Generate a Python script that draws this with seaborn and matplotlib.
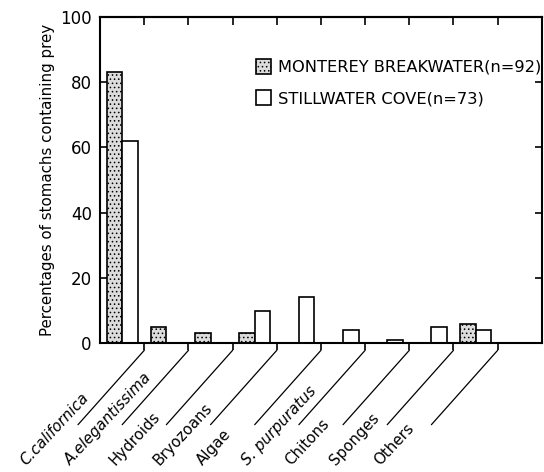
import numpy as np
import pandas as pd
import matplotlib
matplotlib.use("Agg")
import matplotlib.pyplot as plt
from matplotlib.patches import Patch
import seaborn as sns

# prey categories (last slot on the axis is left empty)
categories = ["C.californica", "A.elegantissima", "Hydroids", "Bryozoans",
              "Algae", "S. purpuratus", "Chitons", "Sponges", "Others"]
italic_cats = {"C.californica", "A.elegantissima", "S. purpuratus"}
sites = ["MONTEREY BREAKWATER(n=92)", "STILLWATER COVE(n=73)"]
monterey = [83, 5, 3, 3, 0, 0, 0, 0, 6]
stillwater = [62, 0, 0, 10, 14, 4, 1, 5, 4]
yticks = [0, 20, 40, 60, 80, 100]

df = pd.DataFrame({
    "prey": categories * 2,
    "site": [sites[0]] * len(categories) + [sites[1]] * len(categories),
    "pct": monterey + stillwater,
})

sns.set_style("ticks")
plt.rcParams["font.family"] = ["DejaVu Sans"]
plt.rcParams["hatch.color"] = "#555555"
plt.rcParams["hatch.linewidth"] = 0.6
for k in ["text.color", "axes.labelcolor", "xtick.color", "ytick.color"]:
    plt.rcParams[k] = "black"

fig = plt.figure(figsize=(5.44, 4.72), dpi=100)
ax = fig.add_axes([0.184, 0.273, 0.812, 0.691])

sns.barplot(data=df, x="prey", y="pct", hue="site", order=categories,
            hue_order=sites, width=0.7, ax=ax, legend=False,
            palette=["white", "white"], edgecolor="black", linewidth=1.2)

styles = [dict(fc="#dcdcdc", hatch="...."), dict(fc="white", hatch="")]
for cont, st in zip(ax.containers, styles):
    for bar in cont:
        bar.set_facecolor(st["fc"])
        bar.set_hatch(st["hatch"])
        bar.set_edgecolor("black")

n = len(categories)
ax.set_xlim(-0.5, n + 0.5)
ax.set_ylim(0, 100)
bounds = np.arange(n) + 0.5
ax.set_xticks(bounds)
ax.set_xticklabels([])
ax.tick_params(axis="x", direction="out", length=5, width=1.2)
ax.set_yticks(yticks)
ax.set_yticklabels([str(v) for v in yticks], fontsize=12)
ax.tick_params(axis="y", direction="in", length=5, width=1.2, right=True, pad=6)
secx = ax.secondary_xaxis("top")
secx.set_xticks(bounds)
secx.set_xticklabels([])
secx.tick_params(direction="in", length=6, width=1.2)
secx.spines["top"].set_linewidth(1.5)

for s in ax.spines.values():
    s.set_visible(True)
    s.set_linewidth(1.5)
    s.set_color("black")

ax.set_xlabel("")
ax.set_ylabel("Percentages of stomachs containing prey", fontsize=10.8, labelpad=4)

# slanted separators below the axis
xtr = ax.get_xaxis_transform()
for b in bounds:
    ax.plot([b, b - 1.5], [-0.022, -0.25], transform=xtr, color="black",
            lw=0.9, clip_on=False)

# rotated category labels between the separators
for i, c in enumerate(categories):
    ax.annotate(c, xy=(i, 0), xycoords=("data", "axes fraction"),
                xytext=(-99, -120), textcoords="offset pixels",
                rotation=47, rotation_mode="anchor", ha="left", va="center",
                fontsize=10.8, style="italic" if c in italic_cats else "normal")

handles = [Patch(facecolor="#dcdcdc", hatch="....", edgecolor="black", lw=1.2),
           Patch(facecolor="white", edgecolor="black", lw=1.2)]
ax.legend(handles, sites, loc="upper left", bbox_to_anchor=(0.352, 0.872),
          frameon=False, fontsize=11.7, handlelength=0.95, handleheight=1.05,
          handletextpad=0.45, labelspacing=0.95, borderaxespad=0, borderpad=0)

fig.savefig("out.png", dpi=100)
